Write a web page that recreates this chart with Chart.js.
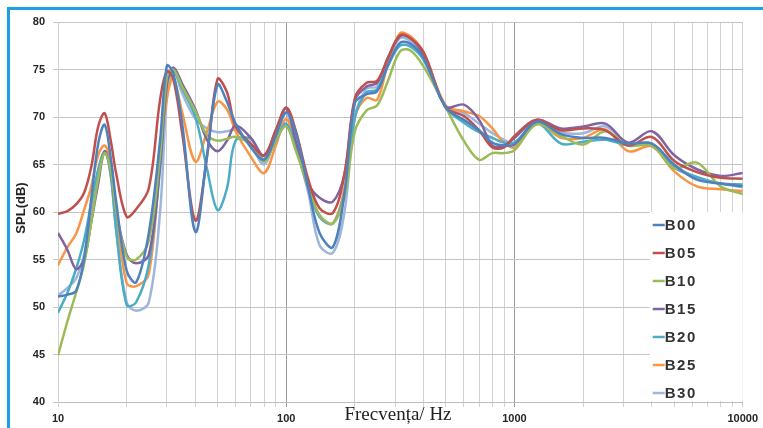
<!DOCTYPE html>
<html>
<head>
<meta charset="utf-8">
<script src="https://cdn.jsdelivr.net/npm/chart.js@4.4.0/dist/chart.umd.min.js"></script>
<style>
  body { margin: 0; background: #fff; }
  #wrap { position: absolute; left: 0; top: 0; width: 763px; height: 428px; overflow: hidden; }
  #frame { position: absolute; left: 7px; top: 7px; width: 900px; height: 600px;
           border-top: 3px solid #1ba1e2; border-left: 3px solid #1ba1e2; pointer-events: none; }
</style>
</head>
<body>
<div id="wrap">
  <canvas id="myChart" width="763" height="428"></canvas>
  <div id="frame"></div>
</div>
<script>
// frequency points (Hz)
const freqs = [10,11,12,13,14,15,16,17,18,20,22,25,28,30,32,35,40,45,50,55,60,70,80,90,
  100,110,125,140,160,180,200,225,250,280,315,350,400,500,600,700,800,900,
  1000,1250,1600,2000,2500,3150,4000,5000,6300,8000,10000];

// SPL (dB) per measurement
const b00 = [51.1,51.3,51.7,55.0,61.5,67.2,69.2,65.8,61.0,53.8,52.6,57.8,67.5,75.4,74.6,69.3,57.9,66.0,73.4,71.6,69.3,66.8,65.5,68.0,
  70.5,68.4,62.5,57.8,56.3,62.0,71.5,72.4,72.7,75.5,77.8,77.7,76.2,71.0,69.7,68.6,67.3,67.0,
  67.1,69.5,68.2,67.8,67.8,67.2,67.2,65.0,63.4,63.0,62.7];
const b05 = [59.8,60.1,60.8,62.0,64.8,69.0,70.4,67.6,64.0,59.5,60.3,62.5,71.8,74.8,74.0,68.3,59.1,65.9,74.0,72.6,69.0,67.2,66.0,68.6,
  71.0,68.6,63.4,60.4,59.9,64.0,72.0,73.6,73.8,76.3,78.6,78.3,76.8,71.0,70.1,68.6,66.8,66.8,
  68.0,69.7,68.6,68.8,68.6,67.0,67.9,65.4,64.2,63.6,63.5];
const b10 = [44.9,48.5,51.5,54.5,59.0,63.5,66.2,64.5,60.0,55.3,55.0,57.0,66.0,74.2,75.0,73.2,70.6,68.1,67.5,67.7,67.9,67.1,65.3,67.6,
  69.0,66.5,62.7,59.7,58.8,61.6,68.5,70.7,71.2,73.9,76.9,77.0,75.3,71.0,67.5,65.5,66.2,66.2,
  66.5,69.2,68.0,67.1,68.5,67.0,67.0,64.6,65.2,62.7,61.9];
const b15 = [57.8,56.0,54.0,55.0,59.0,63.0,66.4,64.5,60.0,55.5,54.6,55.5,65.0,73.5,75.2,73.5,70.8,67.6,66.4,67.5,69.1,67.8,65.9,68.6,
  70.9,67.5,63.0,61.5,61.1,64.0,71.8,73.2,73.6,76.3,78.5,78.3,76.5,71.1,71.3,69.7,67.0,67.0,
  67.8,69.7,68.8,69.0,69.3,67.3,68.5,66.0,64.5,63.8,64.1];
const b20 = [49.4,51.5,54.0,57.0,61.0,64.5,66.3,64.0,58.0,50.2,50.5,54.5,64.5,73.5,74.8,73.0,70.0,64.5,60.2,62.5,67.5,67.7,65.5,67.5,
  69.3,66.8,62.5,59.5,58.8,62.0,70.0,72.6,72.9,75.5,77.5,77.4,76.0,71.0,69.4,68.4,67.8,67.3,
  67.3,69.4,67.2,67.4,67.6,67.0,67.0,64.7,63.7,63.0,62.9];
const b25 = [54.4,56.3,57.7,60.2,62.7,66.0,67.0,65.5,60.0,52.5,52.2,53.5,65.5,72.0,74.1,70.5,65.3,68.5,71.6,70.8,68.5,65.8,64.1,67.0,
  69.8,67.0,62.5,59.5,58.8,62.5,70.0,72.0,71.8,75.8,78.8,78.5,76.8,71.2,70.6,70.1,68.8,67.3,
  66.8,69.4,67.8,67.8,68.7,66.4,66.9,64.3,62.7,62.4,62.2];
const b30 = [51.2,52.0,53.0,55.5,60.0,64.0,66.4,64.0,58.0,50.5,49.6,50.5,60.0,72.0,75.0,72.5,69.8,68.8,68.4,68.5,68.6,67.0,65.0,68.0,
  70.4,67.0,62.0,56.5,55.7,60.0,70.0,73.0,73.2,76.0,78.3,78.0,76.3,71.1,70.4,69.3,68.3,67.6,
  67.3,69.5,68.4,68.3,69.0,67.2,67.2,65.0,63.6,63.0,62.6];

const seriesNames = ['B00','B05','B10','B15','B20','B25','B30'];
const seriesData = [b00, b05, b10, b15, b20, b25, b30];
const seriesColors = ['#4f81bd','#c0504d','#9bbb59','#8064a2','#4bacc6','#f79646','#9fb6dc'];

const xTickValues = [10,20,30,40,50,60,70,80,90,100,200,300,400,500,600,700,800,900,
  1000,2000,3000,4000,5000,6000,7000,8000,9000,10000];
const xLabelValues = [10,100,1000,10000];

const datasets = seriesNames.map(function(name, i){
  return {
    label: name,
    data: freqs.map(function(f, k){ return {x: f, y: seriesData[i][k]}; }),
    borderColor: seriesColors[i],
    backgroundColor: seriesColors[i],
    borderWidth: 2.5,
    pointRadius: 0,
    tension: 0.35,
    fill: false
  };
});

// legend box drawn inside the plot, bottom right
const legendBox = {
  id: 'legendBox',
  beforeDatasetsDraw(chart) {
    const ctx = chart.ctx;
    const a = chart.chartArea;
    const x0 = a.right - 93, y0 = a.bottom - 190;
    ctx.save();
    ctx.fillStyle = '#fff';
    ctx.fillRect(x0, y0, a.right - x0, a.bottom - y0 - 1);
    ctx.font = 'bold 15px "Liberation Sans", Arial, sans-serif';
    if ('letterSpacing' in ctx) ctx.letterSpacing = '1.5px';
    ctx.textBaseline = 'middle';
    chart.data.datasets.forEach(function(ds, i){
      const y = y0 + 13 + i * 28;
      ctx.strokeStyle = ds.borderColor;
      ctx.lineWidth = 2.5;
      ctx.beginPath();
      ctx.moveTo(x0 + 3, y);
      ctx.lineTo(x0 + 15, y);
      ctx.stroke();
      ctx.fillStyle = '#333';
      ctx.fillText(ds.label, x0 + 15, y + 1);
    });
    ctx.restore();
  }
};

// axis titles
const axisTitles = {
  id: 'axisTitles',
  afterDraw(chart) {
    const ctx = chart.ctx;
    ctx.save();
    ctx.fillStyle = '#222';
    ctx.font = '19px "Liberation Serif", "Times New Roman", serif';
    ctx.textAlign = 'center';
    ctx.textBaseline = 'middle';
    ctx.fillText('Frecvența/ Hz', 398, 415);
    ctx.translate(21, 208);
    ctx.rotate(-Math.PI / 2);
    ctx.font = 'bold 13px "Liberation Sans", Arial, sans-serif';
    ctx.fillText('SPL(dB)', 0, 0);
    ctx.restore();
  }
};

const tickFont = { family: '"Liberation Sans", Arial, sans-serif', size: 11, weight: 'bold' };

myChart = new Chart(document.getElementById('myChart'), {
  type: 'line',
  data: { datasets: datasets },
  options: {
    responsive: false,
    animation: false,
    layout: { padding: { top: 22, right: 17, left: 0, bottom: 0 } },
    plugins: { legend: { display: false }, tooltip: { enabled: false } },
    scales: {
      x: {
        type: 'logarithmic',
        min: 10,
        max: 10000,
        afterBuildTicks: function(scale){
          scale.ticks = xTickValues.map(function(v){ return {value: v}; });
        },
        afterFit: function(scale){ scale.height = 26; },
        ticks: {
          autoSkip: false, maxRotation: 0, minRotation: 0,
          padding: 5, color: '#262626', font: tickFont,
          callback: function(v){ return xLabelValues.indexOf(v) >= 0 ? String(v) : ''; }
        },
        grid: {
          color: function(c){
            const v = c.tick && c.tick.value;
            return (v === 100 || v === 1000) ? '#9c9c9c' : '#d2d2d2';
          },
          tickLength: 5
        },
        border: { color: '#bdbdbd' }
      },
      y: {
        min: 40,
        max: 80,
        afterFit: function(scale){ scale.width = 58; },
        ticks: { stepSize: 5, padding: 8, color: '#262626', font: tickFont },
        grid: { color: '#c4c4c4', tickLength: 5 },
        border: { color: '#d2d2d2' }
      }
    }
  },
  plugins: [legendBox, axisTitles]
});
</script>
</body>
</html>
